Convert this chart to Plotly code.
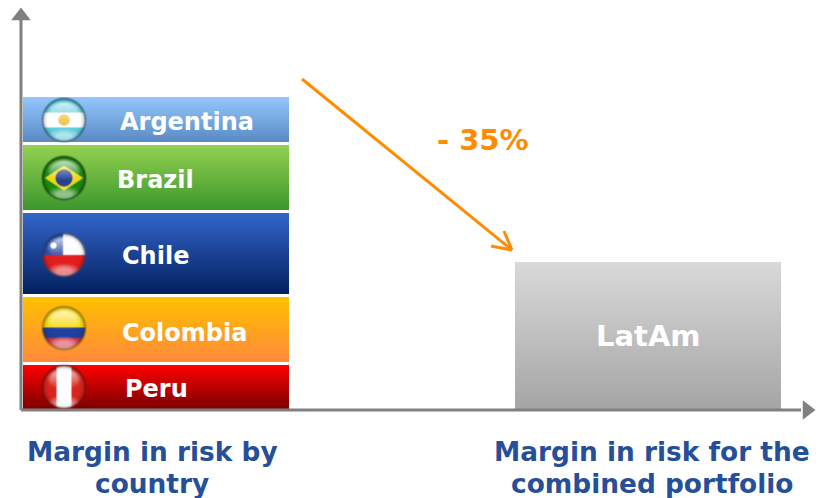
import base64, struct, zlib
import numpy as np
import plotly.graph_objects as go

# ---- data (stack order bottom to top) ----
countries = ["Peru", "Colombia", "Chile", "Brazil", "Argentina"]
margins = [44, 64, 81, 64, 45]
combined_label = "LatAm"
combined_margin = 147
reduction_label = "- 35%"
left_title = ["Margin in risk by", "country"]
right_title = ["Margin in risk for the", "combined portfolio"]

# ---- styles ----
W, H = 825, 498
OX, OY = 21, 410          # pixel position of the axis origin
GAP = 3.5
BAR_W = 266
C_CENTER = 135
L_CENTER = 627
grad = {"Peru": ("#ff0000", "#7d0000"), "Colombia": ("#ffc000", "#ff8a3c"),
        "Chile": ("#3366cc", "#03205e"), "Brazil": ("#92d050", "#3d982e"),
        "Argentina": ("#95c7fe", "#5a8bc6"), "LatAm": ("#d9d9d9", "#a6a6a6")}
label_x = {"Argentina": 166, "Brazil": 134, "Chile": 134, "Colombia": 163, "Peru": 135}
label_dy = {"Argentina": 2, "Brazil": 2, "Chile": 2, "Colombia": 3, "Peru": 2}
ORANGE = "#ff8c00"
GREY = "#808080"
BLUE = "#264f9a"
FONT = "DejaVu Sans"


def rgb(h):
    return np.array([int(h[i:i + 2], 16) for i in (1, 3, 5)], float)


def ramp(top, bottom, n):
    a, b = rgb(top), rgb(bottom)
    return ["rgb(%d,%d,%d)" % tuple(a + (b - a) * i / max(n - 1, 1)) for i in range(n)]


def grad_bar(center, base, height, cols):
    n = int(height)
    step = height / n
    return go.Bar(x=[center] * n, base=[base + i * step for i in range(n)], y=[step] * n,
                  width=BAR_W, marker=dict(color=ramp(*cols, n)[::-1], line=dict(width=0)),
                  hoverinfo="skip", showlegend=False)


def blur(a, k):
    ker = np.ones(k) / k
    for ax in (0, 1):
        a = np.apply_along_axis(lambda m: np.convolve(m, ker, mode="same"), ax, a)
    return a


def flag_png(name):
    S, K = 46, 4
    N = S * K
    g = (np.arange(N) + .5) / N * 2 - 1
    u, v = np.meshgrid(g, g)
    R = 21 / 23
    u, v = u / R, v / R
    r = np.hypot(u, v)
    im = np.zeros((N, N, 3))

    def paint(mask, col):
        im[mask] = rgb(col)
    ring = "#303030"
    if name == "Argentina":
        paint(r < 9, "#5ccbdc")
        paint(np.abs(v) < .36, "#ffffff")
        paint(np.hypot(u, v) < .27, "#f0ca58")
        ring = "#1f4f6f"
    elif name == "Brazil":
        paint(r < 9, "#1f8a10")
        paint(np.abs(u) / .92 + np.abs(v) / .6 < 1, "#f0d818")
        paint(np.hypot(u, v) < .4, "#27408f")
        ring = "#0c3d08"
    elif name == "Chile":
        paint(r < 9, "#ffffff")
        paint((u < -.05) & (v < 0), "#2a50a8")
        paint(np.hypot(u + .5, v + .45) < .15, "#ffffff")
        paint(v >= 0, "#e01e1e")
        ring = "#30406a"
    elif name == "Colombia":
        paint(r < 9, "#f8da10")
        paint(v >= -.02, "#1f3f9f")
        paint(v >= .48, "#d92a38")
        ring = "#8a6a10"
    elif name == "Peru":
        paint(r < 9, "#d8241c")
        paint(np.abs(u) < .36, "#ffffff")
        ring = "#701010"
    # edge shading
    shade = np.clip((r - .75) / .25, 0, 1)[..., None] ** 2 * .3
    im = im * (1 - shade)
    # top gloss: soft, fading towards the middle
    top = np.clip(1 - np.hypot(u / .85, (v + .35) / .58), 0, .3) / .3
    a = (top * np.clip((.1 - v) / 1.0, 0, 1) * .8)[..., None]
    im = im * (1 - a) + 255 * a
    # bottom glow
    bot = np.clip(1 - np.hypot(u / .85, (v - .8) / .42), 0, .6) / .6
    a = (bot * .5)[..., None]
    im = im * (1 - a) + 255 * a
    # ring + alpha
    alpha = np.clip((1.1 - r) / .1, 0, 1)
    edge = np.clip((r - .95) / .08, 0, 1)[..., None] * .8
    im = im * (1 - edge) + rgb(ring) * edge
    rgba = np.dstack([im * alpha[..., None], alpha * 255])  # premultiplied
    for c in range(4):
        rgba[..., c] = blur(rgba[..., c], 7)
    small = rgba.reshape(S, K, S, K, 4).mean(axis=(1, 3))
    al = small[..., 3:] / 255
    small[..., :3] = np.where(al > 0, small[..., :3] / np.maximum(al, 1e-6), 0)
    px = np.clip(small, 0, 255).astype(np.uint8)
    raw = b"".join(b"\0" + px[i].tobytes() for i in range(S))

    def chunk(t, d):
        return struct.pack(">I", len(d)) + t + d + struct.pack(">I", zlib.crc32(t + d))
    png = b"\x89PNG\r\n\x1a\n" + chunk(b"IHDR", struct.pack(">IIBBBBB", S, S, 8, 6, 0, 0, 0)) \
        + chunk(b"IDAT", zlib.compress(raw)) + chunk(b"IEND", b"")
    return "data:image/png;base64," + base64.b64encode(png).decode()


fig = go.Figure()
annos, images, base = [], [], 1
flag_y = {"Argentina": 290, "Brazil": 232, "Chile": 155, "Colombia": 82, "Peru": 23}
for name, val in zip(countries, margins):
    fig.add_trace(grad_bar(C_CENTER, base, val, grad[name]))
    annos.append(dict(x=label_x[name], y=base + val / 2 - label_dy[name], text="<b>%s</b>" % name,
                      showarrow=False, font=dict(family=FONT, size=24, color="white"),
                      xanchor="center", yanchor="middle"))
    images.append(dict(source=flag_png(name), xref="x", yref="y", x=43 - 23, y=flag_y[name] + 23,
                       sizex=46, sizey=46, xanchor="left", yanchor="top", layer="above"))
    base += val + GAP
fig.add_trace(grad_bar(L_CENTER, 1, combined_margin, grad["LatAm"]))
annos.append(dict(x=L_CENTER, y=74, text="<b>%s</b>" % combined_label, showarrow=False,
                  font=dict(family=FONT, size=29, color="white")))
annos.append(dict(x=462, y=270, text="<b>%s</b>" % reduction_label, showarrow=False,
                  font=dict(family=FONT, size=29, color=ORANGE)))
for cx, lines in ((131, left_title), (631, right_title)):
    for y, t in zip((-41, -73), lines):
        annos.append(dict(x=cx, y=y, text="<b>%s</b>" % t, showarrow=False,
                          font=dict(family=FONT, size=26.4, color=BLUE)))


def seg(x0, y0, x1, y1, col, w):
    return dict(type="line", x0=x0, y0=y0, x1=x1, y1=y1, xref="x", yref="y",
                line=dict(color=col, width=w), layer="above")


shapes = [seg(0, 0, 0, 390, GREY, 3), seg(0, 0, 780, 0, GREY, 3),
          seg(281, 331, 491, 160, ORANGE, 3),
          seg(491, 160, 470, 164, ORANGE, 3), seg(491, 160, 483, 179, ORANGE, 3)]

fig.add_trace(go.Scatter(x=[0, 786], y=[394, 0], mode="markers", hoverinfo="skip", showlegend=False,
                         marker=dict(symbol=["triangle-up", "triangle-right"], size=17, color=GREY,
                                     line=dict(width=0))))

fig.update_layout(width=W, height=H, margin=dict(l=0, r=0, t=0, b=0), autosize=False,
                  paper_bgcolor="white", plot_bgcolor="white", barmode="overlay", bargap=0,
                  showlegend=False, annotations=annos, images=images, shapes=shapes,
                  xaxis=dict(range=[-OX, W - OX], visible=False, fixedrange=True),
                  yaxis=dict(range=[OY - H, OY], visible=False, fixedrange=True))
fig.write_html("out.html", config=dict(displayModeBar=False),
               post_script="document.body.style.margin='0';document.documentElement.style.overflow='hidden';")
